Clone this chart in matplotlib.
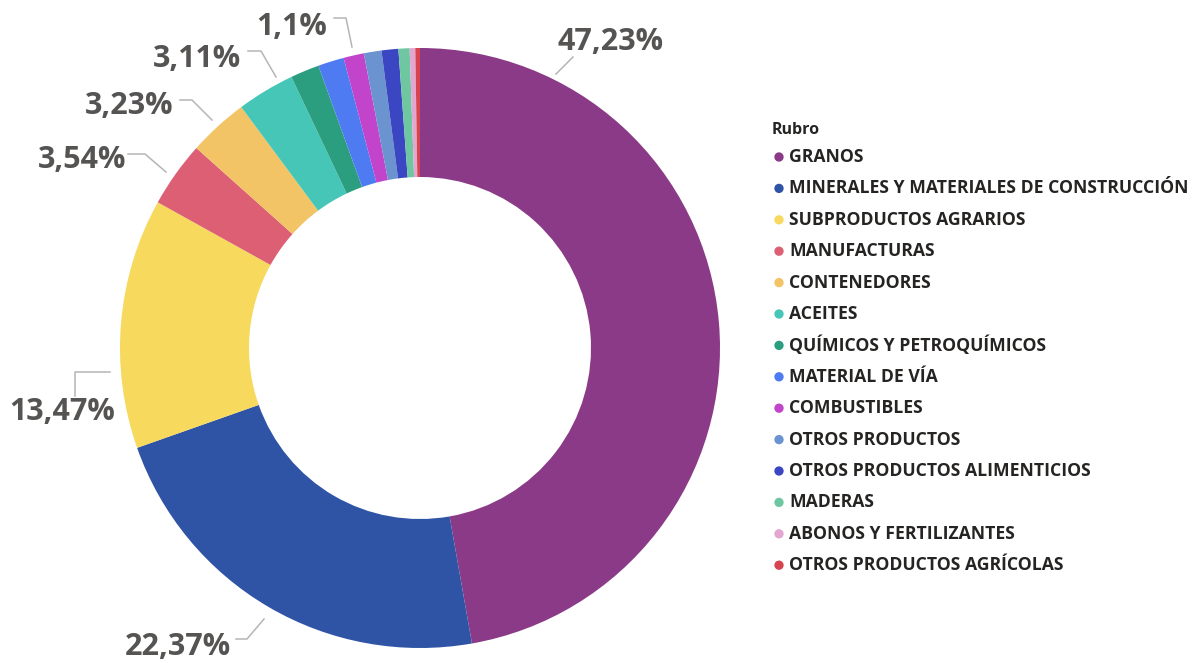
import matplotlib.pyplot as plt

# Data --> share per rubro (%)
categories = ['GRANOS', 'MINERALES Y MATERIALES DE CONSTRUCCIÓN', 'SUBPRODUCTOS AGRARIOS',
              'MANUFACTURAS', 'CONTENEDORES', 'ACEITES', 'QUÍMICOS Y PETROQUÍMICOS',
              'MATERIAL DE VÍA', 'COMBUSTIBLES', 'OTROS PRODUCTOS',
              'OTROS PRODUCTOS ALIMENTICIOS', 'MADERAS', 'ABONOS Y FERTILIZANTES',
              'OTROS PRODUCTOS AGRÍCOLAS']
shares = [47.23, 22.37, 13.47, 3.54, 3.23, 3.11, 1.55, 1.40, 1.10, 0.95, 0.90, 0.60, 0.30, 0.25]
colors = ['#8A3A86', '#2F54A6', '#F7D95E', '#DD5F74', '#F2C466', '#45C6B7', '#2C9E80',
          '#4F7BF2', '#C144CA', '#6B93CF', '#3B47C2', '#6FC7A2', '#E2A6D0', '#D6454F']
labelled = ['47,23%', '22,37%', '13,47%', '3,54%', '3,23%', '3,11%', None,
            None, '1,1%', None, None, None, None, None]

FONT = ['Open Sans', 'DejaVu Sans']
LABEL_GRAY = '#555453'
LINE_GRAY = '#B5B5B5'

W, H = 1195, 663
fig = plt.figure(figsize=(W / 100, H / 100), dpi=100)

#----------------------------------------------------
# Donut
cx, cy, R = 420, 348, 300
ax = fig.add_axes([(cx - R) / W, (H - cy - R) / H, 2 * R / W, 2 * R / H])
ax.pie(shares, colors=colors, startangle=90, counterclock=False, radius=1,
       wedgeprops=dict(width=0.43, edgecolor='none'))
ax.set_xlim(-1, 1)
ax.set_ylim(-1, 1)
ax.set_aspect('auto')
ax.axis('off')

#----------------------------------------------------
# Overlay in pixel coords for labels and legend
ov = fig.add_axes([0, 0, 1, 1])
ov.set_xlim(0, W)
ov.set_ylim(H, 0)
ov.axis('off')

# label placement: text centre, leader polyline (layout only)
label_layout = {
    '47,23%': ((611, 42), [(556, 74), (573, 57)]),
    '22,37%': ((178, 647), [(264, 619), (247, 639), (236, 639)]),
    '13,47%': ((62, 412), [(110, 372), (75, 372), (75, 396)]),
    '3,54%': ((82, 160), [(128, 154), (145, 154), (166, 172)]),
    '3,23%': ((129, 106), [(180, 100), (192, 100), (212, 120)]),
    '3,11%': ((197, 59), [(248, 51), (261, 51), (276, 77)]),
    '1,1%': ((292, 27), [(334, 18), (346, 18), (352, 47)]),
}
for lab in labelled:
    if lab is None:
        continue
    (tx, ty), pts = label_layout[lab]
    ov.text(tx, ty, lab, ha='center', va='center', fontsize=22, fontweight='bold',
            color=LABEL_GRAY, family=FONT)
    ov.plot([p[0] for p in pts], [p[1] for p in pts], color=LINE_GRAY, lw=1.1)

# Legend
lx, ly0, step = 779, 157, 31.4
ov.text(772, 130, 'Rubro', ha='left', va='center', fontsize=11.5, fontweight='bold',
        color='#252423', family=FONT)
for i, (name, col) in enumerate(zip(categories, colors)):
    y = ly0 + i * step
    ov.scatter([lx], [y], s=45, color=col, edgecolors='none')
    ov.text(lx + 10, y, name, ha='left', va='center', fontsize=12.7, fontweight='bold',
            color='#252423', family=FONT)

fig.savefig('out.png', dpi=100)
